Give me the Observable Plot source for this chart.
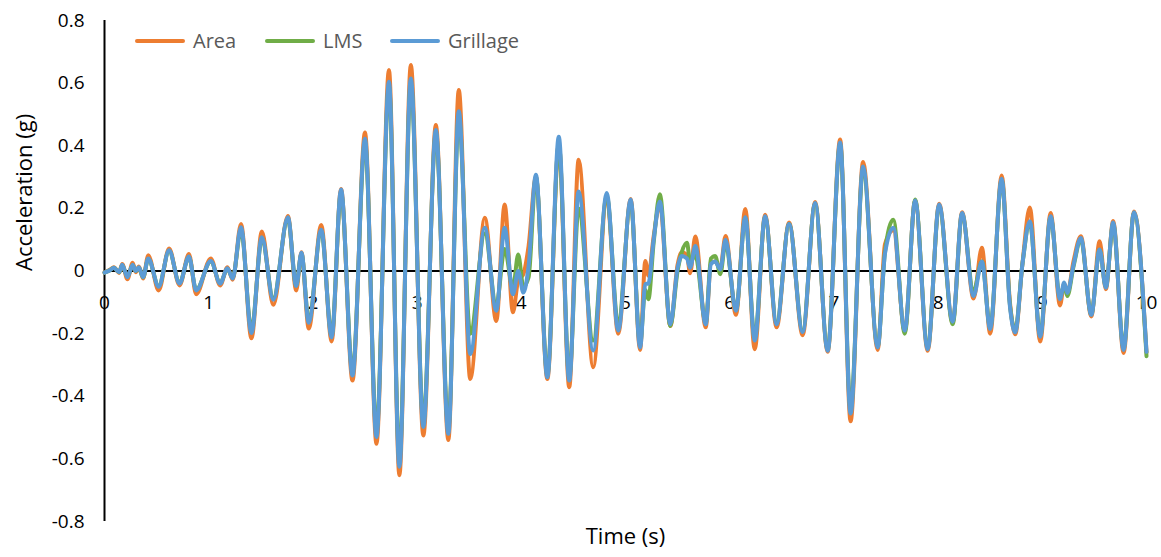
<!DOCTYPE html>
<html>
<head>
<meta charset="utf-8">
<script src="https://cdn.jsdelivr.net/npm/d3@7"></script>
<script src="https://cdn.jsdelivr.net/npm/@observablehq/plot@0.6"></script>
<style>
  html, body { margin: 0; padding: 0; background: #fff; }
  #wrap { position: relative; width: 1161px; height: 557px; font-family: "Open Sans", sans-serif; }
  #legend { position: absolute; top: 0; left: 0; width: 100%; height: 0; }
  .item { position: absolute; top: 28px; display: flex; align-items: center; height: 26px; }
  .swatch { width: 50px; height: 4px; border-radius: 2px; margin-right: 8px; }
  .lab { font-size: 20px; color: #595959; line-height: 26px; }
</style>
</head>
<body>
<div id="wrap"><div id="legend"></div></div>
<script>
const seriesNames = ["Area", "LMS", "Grillage"];
const seriesColors = ["#ED7D31", "#70AD47", "#5B9BD5"];
const yTicks = [-0.8, -0.6, -0.4, -0.2, 0, 0.2, 0.4, 0.6, 0.8];
const xTicks = [0, 1, 2, 3, 4, 5, 6, 7, 8, 9, 10];

const time = [
  0.00, 0.05, 0.09, 0.14, 0.17, 0.22, 0.27, 0.30, 0.33, 0.37,
  0.42, 0.52, 0.62, 0.72, 0.81, 0.88, 1.02, 1.11, 1.18, 1.23,
  1.31, 1.41, 1.51, 1.62, 1.76, 1.84, 1.89, 1.96, 2.08, 2.18,
  2.27, 2.38, 2.50, 2.61, 2.73, 2.83, 2.94, 3.06, 3.18, 3.30,
  3.40, 3.51, 3.65, 3.76, 3.84, 3.92, 3.97, 4.02, 4.07, 4.14,
  4.25, 4.36, 4.46, 4.55, 4.69, 4.82, 4.93, 5.05, 5.14, 5.19,
  5.22, 5.27, 5.33, 5.43, 5.50, 5.54, 5.59, 5.62, 5.67, 5.77,
  5.82, 5.86, 5.91, 5.96, 6.06, 6.15, 6.24, 6.34, 6.45, 6.57,
  6.70, 6.82, 6.94, 7.06, 7.16, 7.28, 7.42, 7.49, 7.57, 7.68,
  7.78, 7.90, 8.01, 8.14, 8.23, 8.34, 8.42, 8.50, 8.61, 8.69,
  8.74, 8.81, 8.88, 8.98, 9.08, 9.17, 9.21, 9.24, 9.30, 9.37,
  9.47, 9.55, 9.61, 9.68, 9.78, 9.88, 10.00
];

const grillage = [
  -0.005, 0.002, 0.010, -0.004, 0.020, -0.020, 0.020, 0.000, 0.012, -0.020,
  0.040, -0.050, 0.066, -0.040, 0.046, -0.062, 0.032, -0.040, 0.009, -0.024,
  0.140, -0.198, 0.108, -0.092, 0.172, -0.048, 0.058, -0.165, 0.132, -0.212,
  0.260, -0.334, 0.422, -0.530, 0.604, -0.625, 0.615, -0.498, 0.450, -0.520,
  0.510, -0.265, 0.138, -0.127, 0.138, -0.074, 0.000, -0.069, 0.016, 0.307,
  -0.339, 0.429, -0.350, 0.254, -0.254, 0.249, -0.190, 0.228, -0.244, -0.042,
  -0.040, 0.100, 0.222, -0.170, 0.010, 0.048, 0.040, 0.010, 0.080, -0.170,
  0.022, 0.030, 0.005, 0.100, -0.127, 0.172, -0.222, 0.175, -0.170, 0.150,
  -0.195, 0.217, -0.255, 0.410, -0.455, 0.334, -0.244, 0.055, 0.138, -0.190,
  0.225, -0.250, 0.212, -0.162, 0.185, -0.080, 0.030, -0.185, 0.295, -0.115,
  -0.196, 0.024, 0.159, -0.210, 0.175, -0.090, -0.037, -0.070, 0.020, 0.105,
  -0.140, 0.069, -0.053, 0.155, -0.252, 0.188, -0.258
];

const area = [
  -0.005, 0.004, 0.012, -0.006, 0.022, -0.026, 0.026, -0.004, 0.014, -0.024,
  0.050, -0.062, 0.072, -0.046, 0.054, -0.074, 0.040, -0.046, 0.012, -0.028,
  0.150, -0.215, 0.126, -0.108, 0.176, -0.062, 0.060, -0.184, 0.147, -0.225,
  0.262, -0.350, 0.442, -0.552, 0.642, -0.652, 0.658, -0.525, 0.466, -0.540,
  0.578, -0.345, 0.170, -0.160, 0.212, -0.132, -0.030, -0.010, 0.080, 0.300,
  -0.345, 0.405, -0.371, 0.355, -0.307, 0.235, -0.200, 0.230, -0.252, 0.032,
  -0.015, 0.110, 0.215, -0.176, 0.020, 0.060, 0.050, -0.007, 0.110, -0.180,
  0.025, 0.030, 0.010, 0.112, -0.140, 0.198, -0.250, 0.180, -0.180, 0.155,
  -0.205, 0.220, -0.258, 0.420, -0.480, 0.348, -0.252, 0.085, 0.130, -0.192,
  0.225, -0.255, 0.215, -0.165, 0.188, -0.088, 0.074, -0.200, 0.305, -0.102,
  -0.202, 0.026, 0.203, -0.225, 0.185, -0.110, -0.040, -0.072, 0.032, 0.111,
  -0.145, 0.095, -0.058, 0.160, -0.262, 0.190, -0.260
];

const lms = [
  -0.005, 0.002, 0.010, -0.004, 0.018, -0.018, 0.018, 0.000, 0.010, -0.020,
  0.038, -0.048, 0.064, -0.038, 0.044, -0.060, 0.030, -0.038, 0.007, -0.022,
  0.132, -0.188, 0.102, -0.086, 0.168, -0.046, 0.055, -0.158, 0.128, -0.205,
  0.252, -0.322, 0.410, -0.510, 0.590, -0.600, 0.600, -0.480, 0.440, -0.500,
  0.490, -0.200, 0.120, -0.110, 0.070, -0.055, 0.053, -0.050, -0.020, 0.300,
  -0.330, 0.405, -0.335, 0.200, -0.222, 0.240, -0.170, 0.220, -0.232, -0.060,
  -0.090, 0.090, 0.245, -0.176, 0.000, 0.060, 0.090, 0.030, 0.050, -0.165,
  0.040, 0.048, -0.010, 0.090, -0.125, 0.170, -0.215, 0.172, -0.165, 0.150,
  -0.190, 0.215, -0.250, 0.405, -0.440, 0.325, -0.240, 0.060, 0.164, -0.200,
  0.228, -0.245, 0.208, -0.170, 0.182, -0.065, 0.030, -0.180, 0.290, -0.110,
  -0.190, 0.024, 0.155, -0.205, 0.172, -0.085, -0.045, -0.080, 0.015, 0.100,
  -0.138, 0.068, -0.050, 0.150, -0.245, 0.186, -0.272
];

const valuesBySeries = [area, lms, grillage];
const rows = seriesNames.map((name, i) =>
  time.map((t, j) => ({series: name, t, v: valuesBySeries[i][j]}))
);

const fmt = d => String(+d.toFixed(1));

const chart = Plot.plot({
  width: 1161,
  height: 557,
  marginLeft: 104,
  marginRight: 15,
  marginTop: 20,
  marginBottom: 36,
  style: {fontFamily: "'Open Sans', sans-serif", fontSize: "19px", color: "#000", background: "#fff"},
  x: {domain: [0, 10], axis: null},
  y: {domain: [-0.8, 0.8], axis: null},
  color: {domain: seriesNames, range: seriesColors},
  marks: [
    Plot.axisY({ticks: yTicks, tickSize: 0, tickPadding: 20, tickFormat: fmt, label: null, fill: "#000"}),
    Plot.ruleX([0], {stroke: "#000", strokeWidth: 2}),
    Plot.ruleY([0], {stroke: "#000", strokeWidth: 2}),
    Plot.text(xTicks, {x: d => d, y: () => 0, text: d => String(d), dy: 32, fill: "#000"}),
    ...rows.map((r, i) => Plot.line(r, {x: "t", y: "v", stroke: "series", strokeWidth: 4, curve: "monotone-x", strokeLinejoin: "round", strokeLinecap: "round"})),
    Plot.text(["Acceleration (g)"], {frameAnchor: "left", dx: -80, rotate: -90, fontSize: 22, fill: "#000"}),
    Plot.text(["Time (s)"], {frameAnchor: "bottom", dy: 22, fontSize: 22, fill: "#000"})
  ]
});

const wrap = document.getElementById("wrap");
wrap.insertBefore(chart, wrap.firstChild);

const legend = document.getElementById("legend");
const legendLeft = [135, 265, 390];
seriesNames.forEach((name, i) => {
  const item = document.createElement("div");
  item.className = "item";
  item.style.left = legendLeft[i] + "px";
  const sw = document.createElement("span");
  sw.className = "swatch";
  sw.style.background = seriesColors[i];
  const lab = document.createElement("span");
  lab.className = "lab";
  lab.textContent = name;
  item.appendChild(sw);
  item.appendChild(lab);
  legend.appendChild(item);
});
</script>
</body>
</html>
